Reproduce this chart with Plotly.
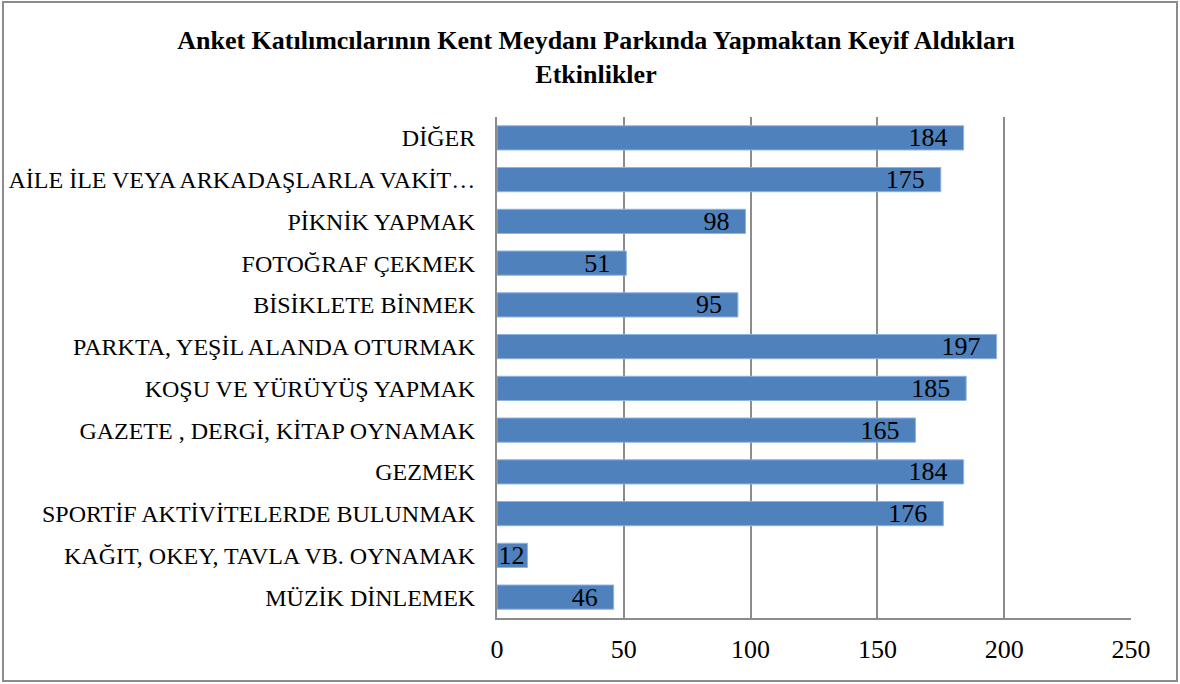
import plotly.graph_objects as go

categories = [
    "DİĞER",
    "AİLE İLE VEYA ARKADAŞLARLA VAKİT…",
    "PİKNİK YAPMAK",
    "FOTOĞRAF ÇEKMEK",
    "BİSİKLETE BİNMEK",
    "PARKTA, YEŞİL ALANDA OTURMAK",
    "KOŞU VE YÜRÜYÜŞ YAPMAK",
    "GAZETE , DERGİ, KİTAP OYNAMAK",
    "GEZMEK",
    "SPORTİF AKTİVİTELERDE BULUNMAK",
    "KAĞIT, OKEY, TAVLA VB. OYNAMAK",
    "MÜZİK DİNLEMEK",
]
values = [184, 175, 98, 51, 95, 197, 185, 165, 184, 176, 12, 46]
x_ticks = [0, 50, 100, 150, 200, 250]
title_text = "<b>Anket Katılımcılarının Kent Meydanı Parkında Yapmaktan Keyif Aldıkları<br>Etkinlikler</b>"

FONT = "Liberation Serif"
GRID = "#8c8c8c"

W, H = 1180, 684
L, R, T, B = 497, 49, 117, 66
pw, ph = W - L - R, H - T - B

labels = [(str(v) + "\u00a0\u00a0") if v > 20 else str(v) for v in values]

fig = go.Figure(
    go.Bar(
        x=values,
        y=categories,
        orientation="h",
        marker=dict(color="#4F81BD", line=dict(color="#8DB3E2", width=1)),
        text=labels,
        textposition="inside",
        insidetextanchor="end",
        textangle=0,
        constraintext="none",
        textfont=dict(family=FONT, size=26, color="#000000"),
        cliponaxis=False,
    )
)

def px_x(p):
    return (p - L) / pw

def px_y(p):
    return (H - B - p) / ph

fig.update_layout(
    width=W,
    height=H,
    margin=dict(l=L, r=R, t=T, b=B, pad=0, autoexpand=False),
    paper_bgcolor="white",
    plot_bgcolor="white",
    bargap=0.42,
    showlegend=False,
    font=dict(family=FONT, color="#000000"),
    title=dict(
        text=title_text,
        x=596 / W,
        xanchor="center",
        y=1 - 49 / H,
        yanchor="middle",
        yref="container",
        xref="container",
        automargin=False,
        font=dict(family=FONT, size=26, color="#000000"),
    ),
    xaxis=dict(
        range=[0, 250],
        tickvals=x_ticks,
        ticktext=[str(t) for t in x_ticks],
        showgrid=True,
        gridcolor=GRID,
        gridwidth=2,
        zeroline=False,
        showline=True,
        linecolor=GRID,
        linewidth=2,
        ticks="",
        automargin=False,
        ticklabelstandoff=7,
        tickfont=dict(family=FONT, size=26, color="#000000"),
        fixedrange=True,
    ),
    yaxis=dict(
        autorange="reversed",
        showgrid=False,
        zeroline=False,
        showline=True,
        linecolor=GRID,
        linewidth=2,
        ticks="",
        automargin=False,
        ticklabelstandoff=15,
        tickfont=dict(family=FONT, size=24, color="#000000"),
        fixedrange=True,
    ),
    shapes=[
        dict(
            type="rect",
            xref="paper",
            yref="paper",
            x0=px_x(3),
            x1=px_x(1177),
            y0=px_y(681),
            y1=px_y(2),
            line=dict(color="#8c8c8c", width=2),
            fillcolor="rgba(0,0,0,0)",
            layer="below",
        )
    ],
)

fig.write_html(
    "out.html",
    config={"displayModeBar": False},
    post_script="document.body.style.margin='0';document.body.style.overflow='hidden';",
)
